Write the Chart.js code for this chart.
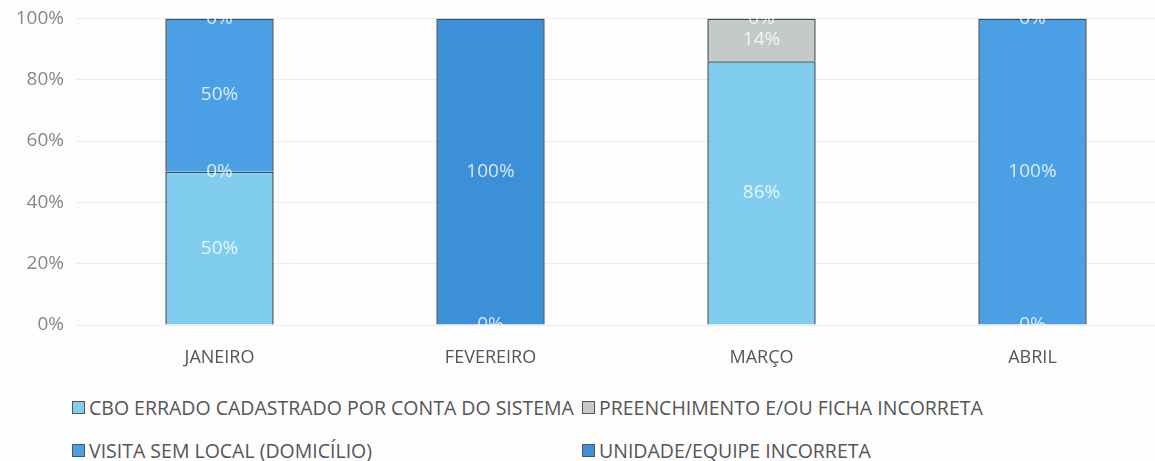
<!DOCTYPE html>
<html>
<head>
<meta charset="utf-8">
<script src="https://cdn.jsdelivr.net/npm/chart.js@4"></script>
<style>
  html, body { margin: 0; padding: 0; background: #fdfdfd; overflow: hidden; }
  #wrap { position: relative; width: 1168px; height: 385px; margin-top: -5px; }
  #legend {
    position: absolute; left: 72px; top: 394px;
    display: grid; grid-template-columns: 510px auto; row-gap: 16px;
    font-family: "Open Sans", sans-serif; font-size: 19.5px; color: #555;
  }
  #legend span.item { display: flex; align-items: center; white-space: nowrap; }
  #legend i { display: inline-block; width: 11px; height: 11px; margin-right: 4px; border: 1px solid #555; }
</style>
</head>
<body>
<div id="wrap"><canvas id="chart"></canvas></div>
<div id="legend"></div>
<script>
const months = ['JANEIRO', 'FEVEREIRO', 'MARÇO', 'ABRIL'];
const yTicks = [0, 20, 40, 60, 80, 100];

const cbo      = [50, 0, 86, 0];
const preench  = [0, null, 14, null];
const visita   = [50, null, null, 100];
const unidade  = [0, 100, 0, 0];

const seriesNames = [
  'CBO ERRADO CADASTRADO POR CONTA DO SISTEMA',
  'PREENCHIMENTO E/OU FICHA INCORRETA',
  'VISITA SEM LOCAL (DOMICÍLIO)',
  'UNIDADE/EQUIPE INCORRETA',
];
const colors = ['#80cdf0', '#c5c9c8', '#4a9fe5', '#3b90d8'];

const FONT = '"Open Sans", sans-serif';

// value labels drawn in the middle of each segment
const segLabels = {
  id: 'segLabels',
  afterDatasetsDraw(chart) {
    const ctx = chart.ctx;
    ctx.save();
    ctx.font = '19px ' + FONT;
    ctx.fillStyle = 'rgba(255,255,255,0.8)';
    ctx.textAlign = 'center';
    ctx.textBaseline = 'middle';
    chart.data.datasets.forEach((ds, i) => {
      const meta = chart.getDatasetMeta(i);
      meta.data.forEach((bar, j) => {
        const v = ds.data[j];
        if (v === null || v === undefined) return;
        const y = (bar.y + bar.base) / 2;
        ctx.fillText(v + '%', bar.x, y);
      });
    });
    ctx.restore();
  }
};

const datasets = [cbo, preench, visita, unidade].map((d, i) => ({
  label:           seriesNames[i],
  data:            d,
  backgroundColor: colors[i],
  borderColor:     '#3d4b57',
  borderWidth:     1.5,
  barPercentage:   0.8,
  categoryPercentage: 0.5,
}));

const canvas = document.getElementById('chart');
canvas.width = 1168; canvas.height = 385;

new Chart(canvas.getContext('2d'), {
  type: 'bar',
  data: { labels: months, datasets },
  plugins: [segLabels],
  options: {
    animation: false,
    responsive: false,
    layout: { padding: { top: 0, left: 0, right: 0 } },
    plugins: { legend: { display: false }, tooltip: { enabled: false } },
    scales: {
      x: {
        stacked: true,
        grid: { display: false },
        border: { display: false },
        ticks: { color: '#555', font: { family: FONT, size: 18 }, padding: 14 },
        afterFit(s) { s.height = 55; },
      },
      y: {
        stacked: true,
        min: 0, max: 100,
        afterBuildTicks(s) { s.ticks = yTicks.map(v => ({ value: v })); },
        grid: { color: '#ececec' },
        border: { display: false },
        ticks: { color: '#888', font: { family: FONT, size: 19 }, padding: 12, callback: v => v + '%' },
        afterFit(s) { s.width = 84; },
      },
    },
  },
});

const legend = document.getElementById('legend');
seriesNames.forEach((n, i) => {
  const el = document.createElement('span');
  el.className = 'item';
  el.innerHTML = '<i style="background:' + colors[i] + '"></i>' + n;
  legend.appendChild(el);
});
</script>
</body>
</html>
